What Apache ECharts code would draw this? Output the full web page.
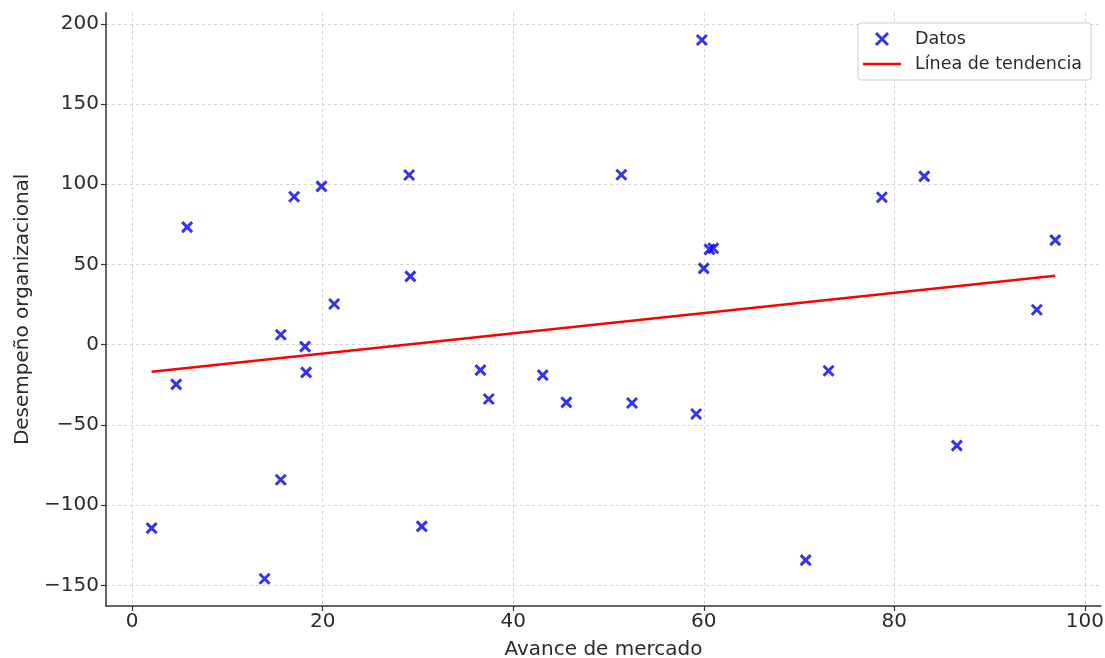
<!DOCTYPE html>
<html>
<head>
<meta charset="utf-8">
<script src="https://cdn.jsdelivr.net/npm/echarts@6/dist/echarts.min.js"></script>
<style>
html,body{margin:0;padding:0;background:#fff;}
#c{width:1105px;height:658px;}
</style>
</head>
<body>
<div id="c"></div>
<script>
// Data
const dataX = [2.04, 4.62, 5.77, 13.9, 15.6, 15.6, 17.0, 18.15, 18.26, 19.87, 21.2, 29.07, 29.2, 30.4, 36.56, 37.43, 43.1, 45.58, 51.35, 52.47, 59.2, 59.8, 60.0, 60.6, 61.0, 73.1, 70.7, 78.7, 83.15, 86.57, 94.96, 96.9];
const dataY = [-114.3, -24.7, 73.3, -145.8, 6.2, -84.1, 92.2, -1.2, -17.2, 98.7, 25.4, 105.8, 42.6, -113.2, -15.8, -33.8, -18.9, -35.9, 105.9, -36.3, -43.2, 189.9, 47.6, 59.4, 60.1, -16.2, -134.2, 91.9, 104.9, -62.9, 21.8, 65.2];
const trendX = [2.04, 96.9];
const trendY = [-16.8, 43.0];
const xTicks = [0, 20, 40, 60, 80, 100];
const yTicks = [-150, -100, -50, 0, 50, 100, 150, 200];
const seriesNames = ['Datos', 'Línea de tendencia'];
const xName = 'Avance de mercado';
const yName = 'Desempeño organizacional';

const fmt = v => (v < 0 ? '\u2212' + Math.abs(v) : String(v));
const xPath = 'path://M0,0L10,10M10,0L0,10';
const linePath = 'path://M0,0H38V2.6H0Z';
const font = 'DejaVu Sans';
const txt = '#2b2b2b';
const markStyle = {color: 'rgba(0,0,0,0)', borderColor: '#0000ee', borderWidth: 3};

const chart = echarts.init(document.getElementById('c'), null, {renderer: 'canvas'});
chart.setOption({
  animation: false,
  backgroundColor: '#fff',
  grid: {left: 106, right: 4, top: 12.7, bottom: 52, containLabel: false, outerBoundsMode: 'none'},
  xAxis: {
    type: 'value', min: -2.75, max: 101.7,
    name: xName, nameLocation: 'middle', nameGap: 34,
    nameTextStyle: {fontFamily: font, fontSize: 20, color: txt},
    axisLine: {show: true, onZero: false, lineStyle: {color: '#333', width: 1.5}},
    axisTick: {show: true, length: 5, customValues: xTicks, lineStyle: {color: '#333', width: 1.2}},
    axisLabel: {customValues: xTicks, formatter: fmt, fontFamily: font, fontSize: 20, color: txt, margin: 6},
    splitLine: {show: true, lineStyle: {color: '#d3d3d3', type: [3, 3], width: 1}}
  },
  yAxis: {
    type: 'value', min: -162.8, max: 206.9,
    name: yName, nameLocation: 'middle', nameGap: 72,
    nameTextStyle: {fontFamily: font, fontSize: 20, color: txt},
    axisLine: {show: true, onZero: false, lineStyle: {color: '#333', width: 1.5}},
    axisTick: {show: true, length: 5, customValues: yTicks, lineStyle: {color: '#333', width: 1.2}},
    axisLabel: {customValues: yTicks, formatter: fmt, fontFamily: font, fontSize: 20, color: txt, margin: 7},
    splitLine: {show: true, lineStyle: {color: '#d3d3d3', type: [3, 3], width: 1}}
  },
  legend: {
    show: true, orient: 'vertical', left: 858, top: 23,
    padding: [6, 9, 6, 5], itemGap: 5, itemWidth: 38, itemHeight: 12,
    backgroundColor: '#fff', borderColor: '#cfcfcf', borderWidth: 1, borderRadius: 3,
    textStyle: {fontFamily: font, fontSize: 17.5, color: txt, lineHeight: 20, padding: [0, 0, 0, 9]},
    data: [
      {name: seriesNames[0], icon: xPath, itemStyle: markStyle},
      {name: seriesNames[1], icon: linePath, itemStyle: {color: '#ff0000', borderWidth: 0}}
    ]
  },
  series: [
    {
      name: seriesNames[0], type: 'scatter', symbol: xPath, symbolSize: 10,
      itemStyle: markStyle,
      data: dataX.map((x, i) => [x, dataY[i]]),
      z: 3
    },
    {
      name: seriesNames[1], type: 'line', showSymbol: false, symbol: 'none',
      itemStyle: {color: '#ff0000'},
      lineStyle: {color: '#ff0000', width: 2.6},
      data: trendX.map((x, i) => [x, trendY[i]]),
      z: 2
    }
  ]
});
</script>
</body>
</html>
